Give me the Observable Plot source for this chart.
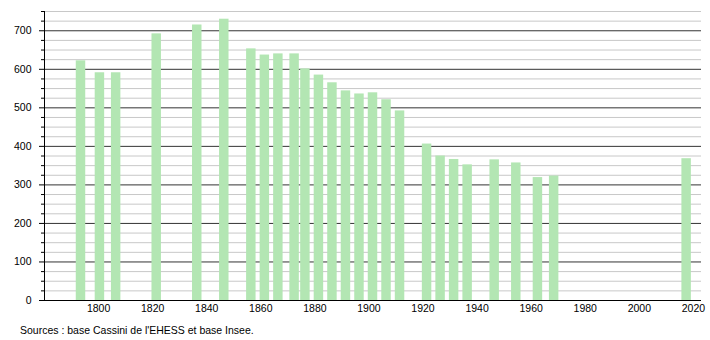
<!DOCTYPE html>
<html>
<head>
<meta charset="utf-8">
<script src="https://cdn.jsdelivr.net/npm/d3@7"></script>
<script src="https://cdn.jsdelivr.net/npm/@observablehq/plot@0.6"></script>
<style>
  html, body { margin: 0; padding: 0; background: #fff; }
  #caption { font-family: "Liberation Sans", Arial, sans-serif; font-size: 10.5px; line-height: 20px; padding-left: 20px; color: #000; }
</style>
</head>
<body>
<div id="chart"></div>
<div id="caption">Sources : base Cassini de l'EHESS et base Insee.</div>
<script>
const years = [1793, 1800, 1806, 1821, 1836, 1846, 1856, 1861, 1866, 1872, 1876, 1881, 1886, 1891, 1896, 1901, 1906, 1911, 1921, 1926, 1931, 1936, 1946, 1954, 1962, 1968, 2017];
const population = [622, 591, 591, 692, 715, 730, 653, 637, 640, 640, 601, 585, 565, 544, 536, 539, 521, 492, 406, 375, 366, 352, 365, 357, 319, 323, 368];
const yMajorTicks = [0, 100, 200, 300, 400, 500, 600, 700];
const yMinorTicks = [25, 50, 75, 125, 150, 175, 225, 250, 275, 325, 350, 375, 425, 450, 475, 525, 550, 575, 625, 650, 675, 725, 750];
const xTicks = [1800, 1820, 1840, 1860, 1880, 1900, 1920, 1940, 1960, 1980, 2000, 2020];

const data = years.map((year, i) => ({year, population: population[i]}));

const chart = Plot.plot({
  width: 710,
  height: 320,
  marginLeft: 44,
  marginRight: 9,
  marginTop: 11,
  marginBottom: 20,
  x: {domain: [1780, 2023]},
  y: {domain: [0, 750]},
  style: {fontFamily: "'Liberation Sans', Arial, sans-serif", fontSize: "10.5px", color: "#000", background: "#fff"},
  marks: [
    Plot.ruleY(yMinorTicks, {stroke: "#c8c8c8"}),
    Plot.ruleY(yMajorTicks.filter(v => v > 0), {stroke: "#333"}),
    Plot.rectY(data, {x1: d => d.year - 1.25, x2: d => d.year + 2.25, y: "population", fill: "#b3e6b3"}),
    Plot.ruleY([0], {stroke: "#000"}),
    Plot.ruleX([1780], {stroke: "#000"}),
    Plot.axisY({ticks: yMajorTicks, tickSize: 5, tickPadding: 8, tickFormat: d => String(d), label: null}),
    Plot.axisY({ticks: yMinorTicks, tickSize: 3, tickFormat: () => "", label: null}),
    Plot.axisX({ticks: xTicks, tickSize: 0, tickPadding: 4, tickFormat: d => String(d), label: null})
  ]
});
document.getElementById("chart").appendChild(chart);
</script>
</body>
</html>
